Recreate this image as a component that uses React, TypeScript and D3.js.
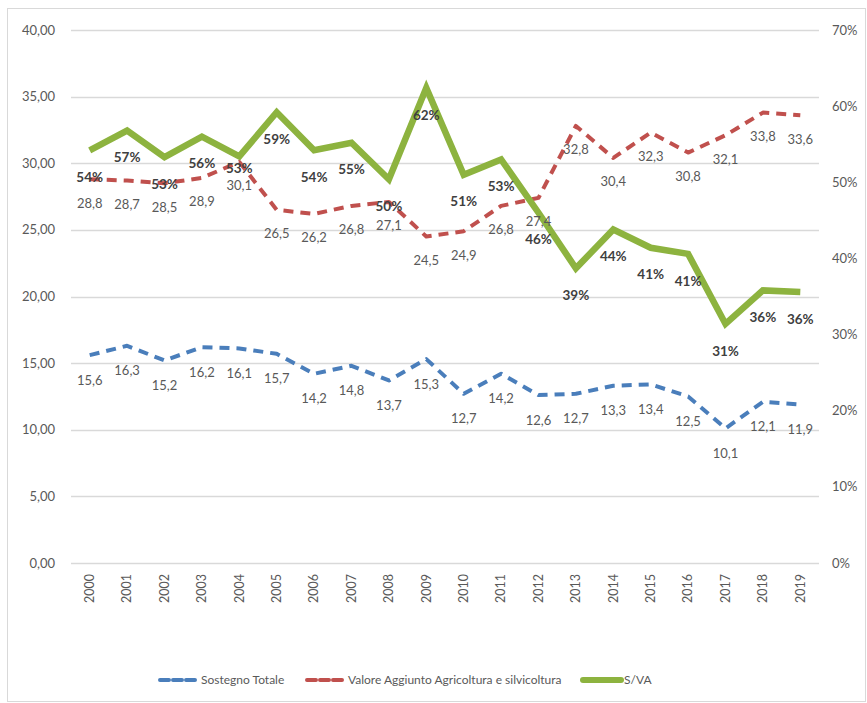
import React, { useEffect, useRef } from "react";
import * as d3 from "d3";

const years = ["2000", "2001", "2002", "2003", "2004", "2005", "2006", "2007", "2008", "2009",
  "2010", "2011", "2012", "2013", "2014", "2015", "2016", "2017", "2018", "2019"];
const sostegno = [15.6, 16.3, 15.2, 16.2, 16.1, 15.7, 14.2, 14.8, 13.7, 15.3,
  12.7, 14.2, 12.6, 12.7, 13.3, 13.4, 12.5, 10.1, 12.1, 11.9];
const valore = [28.8, 28.7, 28.5, 28.9, 30.1, 26.5, 26.2, 26.8, 27.1, 24.5,
  24.9, 26.8, 27.4, 32.8, 30.4, 32.3, 30.8, 32.1, 33.8, 33.6];
const sva = [0.542, 0.568, 0.533, 0.56, 0.534, 0.592, 0.542, 0.552, 0.504, 0.624,
  0.51, 0.53, 0.46, 0.387, 0.438, 0.414, 0.406, 0.314, 0.358, 0.356];
const leftTicks = [0, 5, 10, 15, 20, 25, 30, 35, 40];
const rightTicks = [0, 0.1, 0.2, 0.3, 0.4, 0.5, 0.6, 0.7];
const legendLabels = ["Sostegno Totale", "Valore Aggiunto Agricoltura e silvicoltura", "S/VA"];

const W = 867;
const H = 703;
const FONT = "Lato, 'Open Sans', sans-serif";

const App = () => {
  const ref = useRef(null);

  useEffect(() => {
    const svg = d3.select(ref.current);
    svg.selectAll("*").remove();

    const x = d3.scaleBand().domain(years).range([71, 819]);
    const y = d3.scaleLinear().domain([0, 40]).range([563, 30]);
    const y2 = d3.scaleLinear().domain([0, 0.7]).range([563, 30]);
    const cx = (i) => x(years[i]) + x.bandwidth() / 2;
    const fmt = (v) => v.toFixed(1).replace(".", ",");

    // outer border
    svg.append("rect")
      .attr("x", 7.5).attr("y", 8.5)
      .attr("width", 858).attr("height", 693)
      .attr("fill", "white").attr("stroke", "#d9d9d9");

    // grid
    svg.append("g").selectAll("line")
      .data(leftTicks)
      .enter().append("line")
      .attr("x1", 71).attr("x2", 819)
      .attr("y1", (d) => Math.round(y(d)) + 0.5)
      .attr("y2", (d) => Math.round(y(d)) + 0.5)
      .attr("stroke", "#d9d9d9").attr("stroke-width", 1.3);

    // left axis labels
    svg.append("g").selectAll("text")
      .data(leftTicks)
      .enter().append("text")
      .attr("x", 55).attr("y", (d) => y(d))
      .attr("dy", "0.35em").attr("text-anchor", "end")
      .attr("font-family", FONT).attr("font-size", 13).attr("fill", "#595959")
      .text((d) => d.toFixed(2).replace(".", ","));

    // right axis labels
    svg.append("g").selectAll("text")
      .data(rightTicks)
      .enter().append("text")
      .attr("x", 832).attr("y", (d) => y2(d))
      .attr("dy", "0.35em").attr("text-anchor", "start")
      .attr("font-family", FONT).attr("font-size", 13).attr("fill", "#595959")
      .text((d) => `${Math.round(d * 100)}%`);

    // year labels
    svg.append("g").selectAll("text")
      .data(years)
      .enter().append("text")
      .attr("transform", (d, i) => `translate(${cx(i)}, 574) rotate(-90)`)
      .attr("dy", "0.35em").attr("text-anchor", "end")
      .attr("font-family", FONT).attr("font-size", 12.5).attr("fill", "#595959")
      .text((d) => d);

    const line = (scale) => d3.line()
      .x((d, i) => cx(i))
      .y((d) => scale(d));

    svg.append("path").datum(sostegno)
      .attr("d", line(y)).attr("fill", "none")
      .attr("stroke", "#4a7ebb").attr("stroke-width", 4)
      .attr("stroke-dasharray", "10,7").attr("stroke-linejoin", "round");

    svg.append("path").datum(valore)
      .attr("d", line(y)).attr("fill", "none")
      .attr("stroke", "#c0504d").attr("stroke-width", 4)
      .attr("stroke-dasharray", "10,7").attr("stroke-linejoin", "round");

    svg.append("path").datum(sva)
      .attr("d", line(y2)).attr("fill", "none")
      .attr("stroke", "#8db33f").attr("stroke-width", 6.5)
      .attr("stroke-linejoin", "miter");

    // data labels
    svg.append("g").selectAll("text")
      .data(sostegno)
      .enter().append("text")
      .attr("x", (d, i) => cx(i)).attr("y", (d) => y(d) + 25)
      .attr("dy", "0.35em").attr("text-anchor", "middle")
      .attr("font-family", FONT).attr("font-size", 13).attr("fill", "#595959")
      .text((d) => fmt(d));

    svg.append("g").selectAll("text")
      .data(valore)
      .enter().append("text")
      .attr("x", (d, i) => cx(i)).attr("y", (d) => y(d) + 24)
      .attr("dy", "0.35em").attr("text-anchor", "middle")
      .attr("font-family", FONT).attr("font-size", 13).attr("fill", "#595959")
      .text((d) => fmt(d));

    // 2004 label sits higher in the original (it dodges the 30,1 label)
    svg.append("g").selectAll("text")
      .data(sva)
      .enter().append("text")
      .attr("x", (d, i) => cx(i)).attr("y", (d, i) => y2(d) + (i === 4 ? 12 : 27))
      .attr("dy", "0.35em").attr("text-anchor", "middle")
      .attr("font-family", FONT).attr("font-size", 13.5).attr("font-weight", "bold")
      .attr("fill", "#404040")
      .text((d) => `${Math.round(d * 100)}%`);

    // legend
    const legend = [
      { x: 160, color: "#4a7ebb", dash: "9,4", w: 4, label: legendLabels[0] },
      { x: 307, color: "#c0504d", dash: "9,4", w: 4, label: legendLabels[1] },
      { x: 583, color: "#8db33f", dash: null, w: 6, label: legendLabels[2] },
    ];
    const lg = svg.append("g").selectAll("g").data(legend).enter().append("g");
    lg.append("line")
      .attr("x1", (d) => d.x).attr("x2", (d) => d.x + 38)
      .attr("y1", 680).attr("y2", 680)
      .attr("stroke", (d) => d.color).attr("stroke-width", (d) => d.w)
      .attr("stroke-dasharray", (d) => d.dash)
      .attr("stroke-linecap", "round");
    lg.append("text")
      .attr("x", (d) => d.x + 41).attr("y", 680).attr("dy", "0.35em")
      .attr("font-family", FONT).attr("font-size", 12).attr("fill", "#595959")
      .text((d) => d.label);
  }, []);

  return (
    <svg ref={ref} width={W} height={H}
      style={{ position: "absolute", left: 0, top: 0, background: "white" }} />
  );
};

export default App;
